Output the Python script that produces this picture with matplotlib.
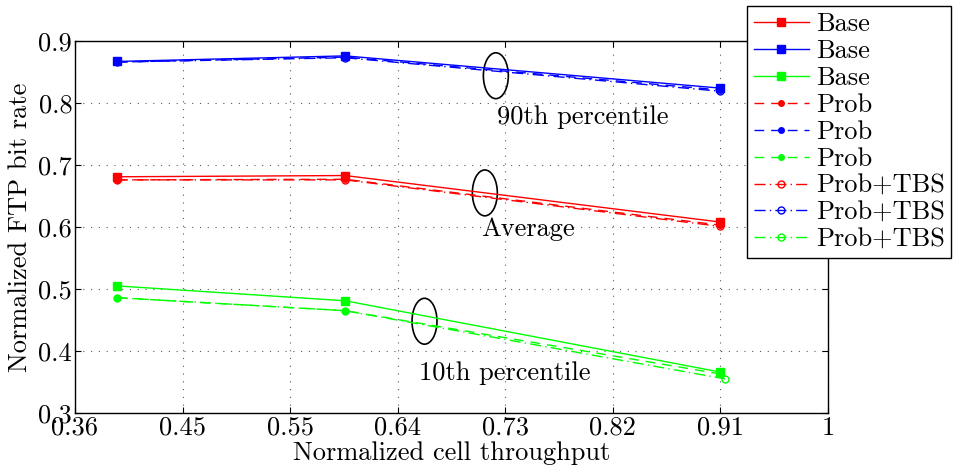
import matplotlib
matplotlib.use("Agg")
import matplotlib.pyplot as plt
from matplotlib.patches import Ellipse

plt.rcParams['font.family'] = ['cmr10', 'DejaVu Serif']
plt.rcParams['axes.formatter.use_mathtext'] = True

# data
x_vals = [0.399, 0.592, 0.909]
x_tbs_p10 = [0.399, 0.592, 0.913]

base_avg = [0.681, 0.683, 0.608]
base_p90 = [0.867, 0.876, 0.824]
base_p10 = [0.505, 0.481, 0.366]

prob_avg = [0.676, 0.677, 0.603]
prob_p90 = [0.866, 0.874, 0.821]
prob_p10 = [0.486, 0.465, 0.363]

tbs_avg = [0.676, 0.676, 0.601]
tbs_p90 = [0.866, 0.873, 0.819]
tbs_p10 = [0.486, 0.465, 0.355]

xtick_vals = [4/11, 5/11, 6/11, 7/11, 8/11, 9/11, 10/11, 1.0]
xtick_labels = ['0.36', '0.45', '0.55', '0.64', '0.73', '0.82', '0.91', '1']
ytick_vals = [0.3, 0.4, 0.5, 0.6, 0.7, 0.8, 0.9]
ytick_labels = ['0.3', '0.4', '0.5', '0.6', '0.7', '0.8', '0.9']

RED, BLUE, GREEN = (1, 0, 0), (0, 0, 1), (0, 1, 0)
FS = 19

fig = plt.figure(figsize=(9.58, 4.70), dpi=100)
ax = fig.add_axes([75/958, 1 - 413/470, (828 - 75)/958, (413 - 41)/470])

lw = 1.0
dash = (7, 5)
h = []
h += ax.plot(x_vals, base_avg, '-', color=RED, lw=lw, marker='s', ms=5.5, label='Base')
h += ax.plot(x_vals, base_p90, '-', color=BLUE, lw=lw, marker='s', ms=5.5, label='Base')
h += ax.plot(x_vals, base_p10, '-', color=GREEN, lw=lw, marker='s', ms=5.5, label='Base')
h += ax.plot(x_vals, prob_avg, '--', color=RED, lw=lw, marker='o', ms=4, dashes=dash, label='Prob')
h += ax.plot(x_vals, prob_p90, '--', color=BLUE, lw=lw, marker='o', ms=4, dashes=dash, label='Prob')
h += ax.plot(x_vals, prob_p10, '--', color=GREEN, lw=lw, marker='o', ms=4, dashes=dash, label='Prob')
dd = (8, 3, 1, 3)
h += ax.plot(x_vals, tbs_avg, '-.', color=RED, lw=lw, marker='o', ms=5, mfc='none', dashes=dd, label='Prob+TBS')
h += ax.plot(x_vals, tbs_p90, '-.', color=BLUE, lw=lw, marker='o', ms=5, mfc='none', dashes=dd, label='Prob+TBS')
h += ax.plot(x_tbs_p10, tbs_p10, '-.', color=GREEN, lw=lw, marker='o', ms=5, mfc='none', dashes=dd, label='Prob+TBS')

ax.set_xlim(4/11, 1.0)
ax.set_ylim(0.3, 0.9)
ax.set_xticks(xtick_vals)
ax.set_xticklabels(xtick_labels)
ax.set_yticks(ytick_vals)
ax.set_yticklabels(ytick_labels)
ax.tick_params(direction='in', length=4, width=0.8, top=True, right=True, labelsize=FS, pad=2)
ax.grid(True, linestyle=(0, (1, 6)), color='0.35', lw=0.8)
for s in ax.spines.values():
    s.set_linewidth(1.0)

ax.set_xlabel('Normalized cell throughput', fontsize=FS, labelpad=1)
ax.set_ylabel('Normalized FTP bit rate', fontsize=FS, labelpad=5)

# ellipses and annotations
for cx, cy in [(0.7193, 0.844), (0.710, 0.655), (0.659, 0.448)]:
    ax.add_patch(Ellipse((cx, cy), 0.0211, 0.074, fill=False, ec='black', lw=1.2))
ax.text(0.7205, 0.777, '90th percentile', fontsize=FS, ha='left', va='center')
ax.text(0.7066, 0.597, 'Average', fontsize=FS, ha='left', va='center')
ax.text(0.6542, 0.364, '10th percentile', fontsize=FS, ha='left', va='center')

leg = fig.legend(handles=h, loc='upper left', bbox_to_anchor=(747/958, 1 - 6/470),
                 bbox_transform=fig.transFigure, borderaxespad=0, fontsize=FS,
                 frameon=True, fancybox=False, edgecolor='black', framealpha=1,
                 handlelength=2.1, handletextpad=0.25, labelspacing=0.12,
                 borderpad=0.25)
leg.get_frame().set_linewidth(1.0)

fig.savefig('out.png', dpi=100)
